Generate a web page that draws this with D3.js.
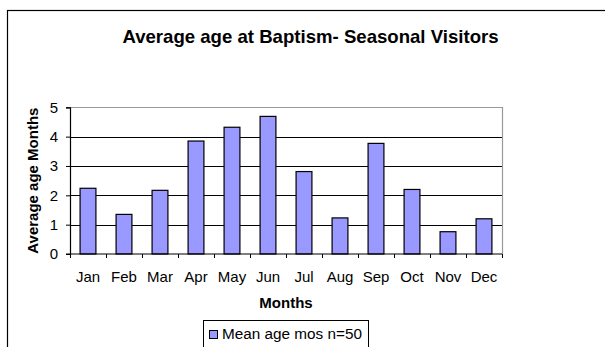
<!DOCTYPE html>
<html><head><meta charset="utf-8">
<script src="https://cdn.jsdelivr.net/npm/d3@7/dist/d3.min.js"></script>
<style>body{margin:0;background:#fff}svg{display:block;font-family:Arial,"Liberation Sans",sans-serif}</style>
</head><body><svg id="c" width="605" height="347"></svg>
<script>
const months = ["Jan","Feb","Mar","Apr","May","Jun","Jul","Aug","Sep","Oct","Nov","Dec"];
const meanAge = [2.24,1.35,2.17,3.85,4.32,4.69,2.81,1.23,3.77,2.2,0.76,1.2];
const yTicks = [0,1,2,3,4,5];
const title = "Average age at Baptism- Seasonal Visitors";
const xTitle = "Months";
const yTitle = "Average age Months";
const seriesName = "Mean age mos n=50";

const FONT = "Arial,'Liberation Sans',sans-serif";
const svg = d3.select("#c");
const L=70, R=502, T=107.3, B=254;
svg.append("rect").attr("x",7.5).attr("y",10.5).attr("width",700).attr("height",400)
  .attr("fill","#fff").attr("stroke","#000").attr("stroke-width",1.2);

const x = d3.scaleBand().domain(months).range([L,R]).paddingInner(0.56).paddingOuter(0.28);
const xb = d3.scaleBand().domain(months).range([L,R]);
const y = d3.scaleLinear().domain([0,5]).range([B,T]);

// grid
svg.append("g").selectAll("line").data(yTicks.filter(d=>d>0&&d<5)).join("line")
  .attr("x1",L).attr("x2",R).attr("y1",d=>Math.round(y(d))+0.5).attr("y2",d=>Math.round(y(d))+0.5)
  .attr("stroke","#000").attr("stroke-width",1);
// plot border top/right gray
svg.append("path").attr("d",`M${L},${Math.round(T)+0.5}H${R+0.5}V${B}`).attr("fill","none").attr("stroke","#999").attr("stroke-width",1.2);

// bars
svg.append("g").selectAll("rect").data(meanAge).join("rect")
  .attr("x",(d,i)=>x(months[i])).attr("width",x.bandwidth())
  .attr("y",d=>y(d)).attr("height",d=>B-y(d))
  .attr("fill","#9999FF").attr("stroke","#000").attr("stroke-width",1.2);

// y axis
const ya = svg.append("g").attr("transform",`translate(${L},0)`)
  .call(d3.axisLeft(y).tickValues(yTicks).tickSize(4).tickPadding(8).tickFormat(d3.format("d")));
ya.selectAll("text").attr("font-size",15).attr("fill","#000").attr("font-family",FONT);
ya.select(".domain").attr("stroke","#000").attr("stroke-width",1.2);
ya.selectAll(".tick line").attr("stroke","#000");

// x axis
const xa = svg.append("g").attr("transform",`translate(0,${B})`);
xa.append("line").attr("x1",L-4).attr("x2",R).attr("stroke","#000").attr("stroke-width",1.2);
xa.selectAll(".tk").data(months.concat(["_end"])).join("line").attr("class","tk")
  .attr("x1",(d,i)=>i<12?Math.round(xb(d))+0.5:R+0.5).attr("x2",(d,i)=>i<12?Math.round(xb(d))+0.5:R+0.5)
  .attr("y1",0).attr("y2",4).attr("stroke","#000");
xa.selectAll("text").data(months).join("text")
  .attr("x",d=>xb(d)+xb.bandwidth()/2).attr("y",28).attr("text-anchor","middle")
  .attr("font-size",15).text(d=>d);

// titles
svg.append("text").attr("x",310.5).attr("y",43).attr("text-anchor","middle")
  .attr("font-size",18.6).attr("font-weight","bold").text(title);
svg.append("text").attr("x",286).attr("y",308).attr("text-anchor","middle")
  .attr("font-size",15).attr("font-weight","bold").text(xTitle);
svg.append("text").attr("transform",`translate(38,${(T+B)/2}) rotate(-90)`).attr("text-anchor","middle")
  .attr("font-size",15).attr("font-weight","bold").text(yTitle);

// legend
const lg = svg.append("g");
lg.append("rect").attr("x",203.5).attr("y",320.5).attr("width",165).attr("height",40).attr("fill","#fff").attr("stroke","#000");
lg.append("rect").attr("x",209.5).attr("y",330.5).attr("width",8).attr("height",8).attr("fill","#9999FF").attr("stroke","#000");
lg.append("text").attr("x",222).attr("y",338.5).attr("font-size",15.3).text(seriesName);
</script></body></html>
